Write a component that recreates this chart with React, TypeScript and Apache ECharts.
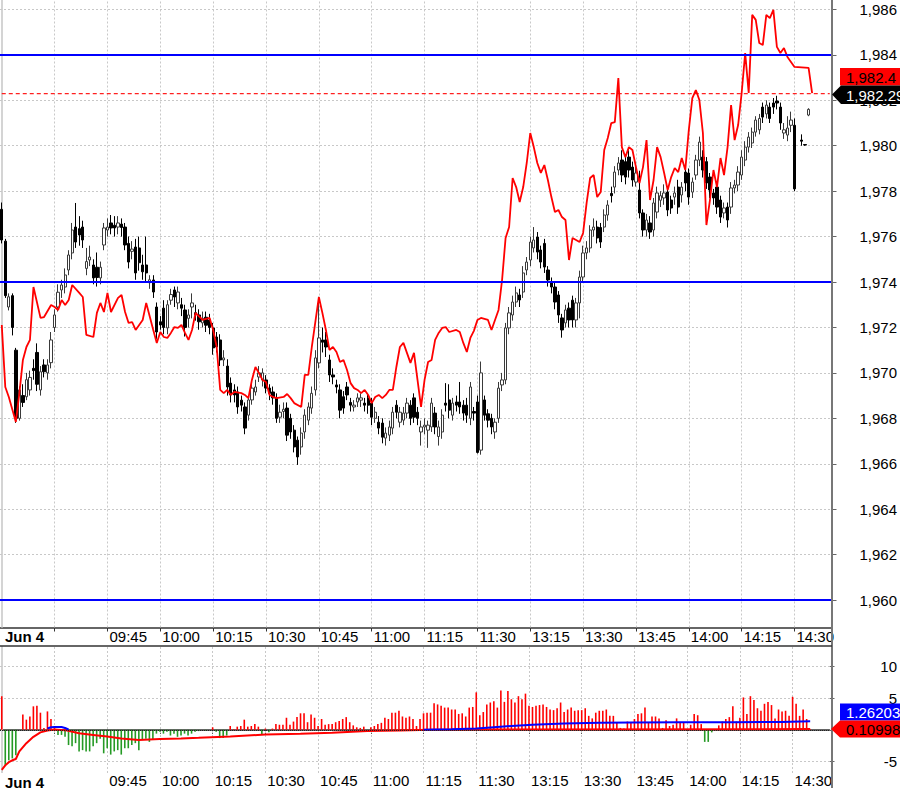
import React, { useEffect, useRef } from "react";
import * as echarts from "echarts";

const FONT = "'Liberation Sans', Arial, Helvetica, sans-serif";

// Trading sessions (1-minute bars)
const sessions = [
  { start: "09:15", end: "11:30" },
  { start: "13:01", end: "14:40" },
];

function buildTimes(): string[] {
  const out: string[] = [];
  for (const s of sessions) {
    const [sh, sm] = s.start.split(":").map(Number);
    const [eh, em] = s.end.split(":").map(Number);
    for (let m = sh * 60 + sm; m <= eh * 60 + em; m++) {
      out.push(String(Math.floor(m / 60)).padStart(2, "0") + ":" + String(m % 60).padStart(2, "0"));
    }
  }
  return out;
}
const times = buildTimes();

const dayLabel = "Jun 4";
const dayStartTime = "09:15";
const labelTimes = ["09:45", "10:00", "10:15", "10:30", "10:45", "11:00", "11:15", "11:30", "13:15", "13:30", "13:45", "14:00", "14:15", "14:30"];
const tickTimes = ["09:30", ...labelTimes];

const priceTicks = [1960, 1962, 1964, 1966, 1968, 1970, 1972, 1974, 1976, 1978, 1980, 1982, 1984, 1986];
const oscTicks = [-5, 0, 5, 10];
const oscLabels = [-5, 5, 10];

const blueLevels = [1984, 1974, 1960];
const lastPrice = 1982.29;

// [open, close, low, high]
const candles: any[] = [
  [1977.2, 1975.85, 1975.7, 1977.5], [1975.8, 1973.4, 1973.3, 1975.9], [1972.9, 1973.35, 1972.75, 1973.5], [1973.4, 1972.0, 1971.65, 1973.5],
  [1971.0, 1968.0, 1967.8, 1971.1], [1968.0, 1969.25, 1967.9, 1969.4], [1969.0, 1968.7, 1968.5, 1969.5], [1968.95, 1969.7, 1968.8, 1970.0],
  [1969.25, 1969.8, 1969.0, 1970.1], [1970.2, 1970.1, 1969.7, 1970.6], [1970.9, 1969.5, 1969.2, 1971.3], [1969.25, 1970.05, 1969.0, 1970.3],
  [1970.35, 1970.05, 1969.8, 1970.6], [1970.0, 1970.35, 1969.7, 1970.6], [1970.45, 1971.45, 1970.2, 1971.8], [1972.0, 1972.55, 1971.8, 1972.8],
  [1972.9, 1973.55, 1972.7, 1973.9], [1973.65, 1973.87, 1973.3, 1974.1], [1973.78, 1974.31, 1973.5, 1974.6], [1974.53, 1975.19, 1974.3, 1975.4],
  [1975.28, 1976.29, 1975.0, 1976.6], [1976.42, 1975.76, 1975.5, 1977.48], [1976.35, 1976.07, 1975.6, 1976.9], [1976.42, 1975.85, 1975.5, 1976.7],
  [1974.6, 1974.9, 1974.3, 1975.5], [1974.97, 1975.1, 1974.7, 1975.6], [1974.75, 1974.18, 1973.9, 1975.0], [1974.65, 1974.2, 1973.8, 1975.3],
  [1974.18, 1974.65, 1973.9, 1974.9], [1975.63, 1976.38, 1975.4, 1976.6], [1976.29, 1976.42, 1976.0, 1976.8], [1976.6, 1976.38, 1976.1, 1976.95],
  [1976.5, 1976.38, 1976.0, 1976.9], [1976.42, 1976.6, 1976.1, 1976.9], [1976.55, 1976.4, 1976.0, 1976.8], [1976.42, 1975.63, 1975.4, 1976.6],
  [1975.7, 1974.88, 1974.6, 1976.0], [1975.35, 1975.45, 1975.0, 1975.8], [1975.54, 1974.4, 1974.1, 1975.9], [1975.5, 1974.85, 1974.5, 1976.0],
  [1974.75, 1974.45, 1974.1, 1975.2], [1974.75, 1974.4, 1974.0, 1976.0], [1973.97, 1974.1, 1973.7, 1974.3], [1974.09, 1973.56, 1973.3, 1974.3],
  [1972.9, 1971.8, 1971.5, 1973.1], [1972.25, 1972.11, 1971.9, 1972.5], [1972.85, 1972.0, 1971.7, 1973.2], [1971.98, 1973.0, 1971.7, 1973.2],
  [1973.2, 1973.45, 1973.0, 1973.7], [1973.65, 1973.34, 1972.9, 1973.8], [1973.08, 1973.56, 1972.8, 1973.8], [1973.0, 1972.85, 1972.5, 1973.3],
  [1972.77, 1972.0, 1971.6, 1973.0], [1972.4, 1972.55, 1972.0, 1972.8], [1972.9, 1973.08, 1972.4, 1973.5], [1972.65, 1972.55, 1972.3, 1973.0],
  [1972.55, 1972.25, 1971.9, 1972.8], [1972.2, 1972.4, 1972.0, 1972.7], [1972.45, 1972.1, 1971.8, 1972.7], [1972.33, 1972.0, 1971.7, 1972.6],
  [1971.98, 1971.1, 1970.8, 1972.2], [1971.58, 1971.14, 1970.9, 1971.8], [1971.45, 1970.57, 1970.3, 1971.7], [1970.57, 1970.66, 1970.3, 1971.0],
  [1970.3, 1969.38, 1969.0, 1970.6], [1969.55, 1969.03, 1968.7, 1969.8], [1969.25, 1969.03, 1968.7, 1969.5], [1969.16, 1968.5, 1968.2, 1969.4],
  [1968.8, 1968.58, 1968.3, 1969.0], [1968.5, 1967.57, 1967.3, 1968.7], [1968.14, 1968.81, 1967.9, 1969.0], [1968.81, 1969.33, 1968.6, 1969.6],
  [1969.16, 1969.38, 1969.0, 1969.7], [1969.82, 1970.0, 1969.6, 1970.3], [1969.69, 1970.0, 1969.4, 1970.2], [1969.69, 1969.33, 1969.1, 1969.9],
  [1969.33, 1969.1, 1968.8, 1969.5], [1969.16, 1968.9, 1968.6, 1969.4], [1968.9, 1968.0, 1967.8, 1969.1], [1968.05, 1968.27, 1967.8, 1968.6],
  [1968.3, 1968.4, 1968.0, 1968.7], [1968.45, 1967.26, 1967.0, 1968.7], [1968.0, 1967.4, 1967.1, 1968.2], [1967.48, 1966.74, 1966.5, 1967.7],
  [1967.04, 1966.3, 1965.95, 1967.2], [1966.74, 1967.35, 1966.4, 1967.6], [1967.4, 1968.14, 1967.1, 1968.4], [1967.92, 1968.5, 1967.7, 1968.7],
  [1968.45, 1969.1, 1968.2, 1969.4], [1969.25, 1970.66, 1969.0, 1971.0], [1970.44, 1971.54, 1970.2, 1973.35], [1971.45, 1971.35, 1970.9, 1972.0],
  [1971.45, 1971.14, 1970.7, 1971.8], [1970.57, 1969.91, 1969.6, 1970.8], [1969.91, 1969.82, 1969.5, 1970.2], [1969.47, 1969.38, 1969.1, 1969.7],
  [1969.25, 1968.36, 1968.0, 1969.5], [1968.95, 1968.45, 1968.2, 1969.2], [1969.38, 1969.03, 1968.8, 1969.6], [1968.7, 1968.58, 1968.3, 1968.9],
  [1968.5, 1968.58, 1968.3, 1968.8], [1968.72, 1968.9, 1968.5, 1969.1], [1968.8, 1968.9, 1968.5, 1969.1], [1968.67, 1968.58, 1968.3, 1968.9],
  [1968.9, 1968.58, 1968.2, 1969.1], [1968.67, 1968.05, 1967.7, 1968.9], [1968.0, 1968.27, 1967.8, 1968.5], [1967.83, 1967.57, 1967.3, 1968.1],
  [1967.79, 1967.17, 1966.9, 1968.0], [1967.13, 1967.35, 1966.8, 1967.6], [1967.26, 1967.62, 1967.0, 1967.9], [1967.57, 1968.27, 1967.3, 1968.5],
  [1968.58, 1968.27, 1968.0, 1968.8], [1967.83, 1968.27, 1967.6, 1968.5], [1967.92, 1968.23, 1967.7, 1968.5], [1968.23, 1968.67, 1968.0, 1968.9],
  [1968.58, 1968.0, 1967.7, 1968.8], [1968.9, 1968.05, 1967.8, 1969.1], [1968.27, 1968.0, 1967.7, 1968.5], [1967.4, 1967.62, 1966.8, 1967.9],
  [1967.62, 1967.7, 1967.3, 1968.0], [1967.48, 1967.7, 1966.7, 1967.9], [1967.62, 1968.67, 1967.4, 1968.9], [1968.23, 1967.62, 1967.3, 1968.5],
  [1967.2, 1967.62, 1966.8, 1967.9], [1967.4, 1968.14, 1967.1, 1968.4], [1968.67, 1968.58, 1968.3, 1969.55], [1968.81, 1968.36, 1968.0, 1969.5],
  [1968.14, 1968.67, 1967.9, 1968.9], [1968.72, 1968.58, 1968.3, 1969.0], [1968.72, 1968.5, 1968.2, 1969.6], [1968.58, 1968.23, 1967.9, 1968.8],
  [1968.58, 1968.14, 1967.8, 1968.9], [1968.0, 1969.38, 1967.7, 1969.6], [1968.3, 1968.23, 1967.9, 1968.5], [1968.72, 1966.5, 1966.45, 1969.0],
  // afternoon
  [1966.6, 1970.0, 1966.4, 1970.5], [1968.81, 1968.14, 1967.9, 1969.0], [1968.2, 1967.92, 1967.6, 1968.4], [1968.0, 1967.62, 1967.3, 1968.2],
  [1967.4, 1967.83, 1967.1, 1968.0], [1968.0, 1969.33, 1967.8, 1969.6], [1969.47, 1969.69, 1969.2, 1970.0], [1969.69, 1971.98, 1969.5, 1972.2],
  [1971.98, 1972.64, 1971.7, 1972.9], [1972.55, 1973.12, 1972.3, 1973.4], [1973.12, 1973.52, 1972.9, 1973.8], [1973.43, 1973.21, 1972.9, 1973.7],
  [1973.56, 1974.4, 1973.3, 1974.7], [1974.53, 1974.88, 1974.3, 1975.1], [1974.97, 1975.76, 1974.7, 1976.0], [1975.5, 1975.85, 1975.3, 1976.42],
  [1975.98, 1975.32, 1975.0, 1976.2], [1975.41, 1974.88, 1974.6, 1975.6], [1975.7, 1974.66, 1974.4, 1975.9], [1974.53, 1974.09, 1973.8, 1974.7],
  [1974.0, 1973.78, 1973.5, 1974.2], [1973.78, 1973.12, 1972.8, 1974.0], [1973.43, 1972.55, 1972.2, 1973.6], [1972.42, 1971.89, 1971.55, 1972.6],
  [1972.2, 1972.77, 1972.0, 1973.0], [1972.85, 1972.33, 1972.0, 1973.1], [1973.2, 1972.33, 1972.0, 1973.4], [1972.33, 1973.08, 1972.0, 1973.3],
  [1973.08, 1974.22, 1972.4, 1974.5], [1974.22, 1975.28, 1974.0, 1975.6], [1975.28, 1975.5, 1975.0, 1975.8], [1975.5, 1976.29, 1975.3, 1976.5],
  [1976.29, 1976.42, 1976.0, 1976.8], [1976.42, 1975.94, 1975.7, 1976.7], [1976.4, 1975.76, 1975.5, 1976.6], [1976.42, 1976.95, 1976.2, 1977.2],
  [1976.95, 1977.39, 1976.7, 1977.6], [1977.9, 1977.8, 1977.5, 1978.2], [1978.18, 1978.84, 1977.9, 1979.1], [1978.93, 1979.24, 1978.7, 1979.5],
  [1979.37, 1978.71, 1978.4, 1979.8], [1979.3, 1978.62, 1978.3, 1979.5], [1979.5, 1978.93, 1978.6, 1979.8], [1979.06, 1978.49, 1978.2, 1979.3],
  [1978.4, 1978.8, 1978.2, 1979.1], [1978.05, 1977.04, 1976.8, 1978.9], [1977.04, 1976.29, 1976.0, 1977.2], [1976.29, 1976.73, 1976.0, 1977.0],
  [1976.6, 1976.2, 1975.9, 1976.9], [1976.29, 1977.48, 1976.0, 1977.7], [1977.08, 1977.92, 1976.8, 1978.2], [1977.6, 1977.8, 1977.3, 1978.0],
  [1977.7, 1977.92, 1977.4, 1978.3], [1977.96, 1977.17, 1976.9, 1978.2], [1977.61, 1977.26, 1977.0, 1977.8], [1977.74, 1977.92, 1977.4, 1978.2],
  [1978.18, 1977.3, 1977.0, 1978.5], [1977.83, 1978.18, 1977.5, 1978.4], [1978.84, 1978.36, 1978.0, 1979.1], [1978.8, 1977.74, 1977.4, 1979.0],
  [1977.96, 1978.4, 1977.7, 1978.6], [1978.71, 1979.37, 1978.5, 1979.6], [1979.37, 1980.16, 1979.1, 1980.4], [1979.5, 1978.93, 1978.6, 1979.8],
  [1979.3, 1978.36, 1978.1, 1979.5], [1978.62, 1978.05, 1977.7, 1978.8], [1977.92, 1977.7, 1977.4, 1978.1], [1978.18, 1977.3, 1977.0, 1978.4],
  [1977.61, 1976.86, 1976.6, 1977.8], [1977.04, 1977.26, 1976.8, 1977.5], [1977.3, 1976.73, 1976.4, 1977.5], [1977.3, 1978.14, 1977.0, 1978.4],
  [1978.14, 1978.27, 1977.9, 1978.5], [1978.27, 1978.84, 1978.0, 1979.1], [1978.71, 1979.5, 1978.5, 1979.8], [1979.37, 1979.94, 1979.1, 1980.2],
  [1979.94, 1980.38, 1979.7, 1980.6], [1980.12, 1980.6, 1979.9, 1980.8], [1980.6, 1981.13, 1980.4, 1981.3], [1980.7, 1981.2, 1980.5, 1981.4],
  [1981.7, 1981.26, 1981.0, 1981.9], [1981.4, 1981.79, 1981.2, 1982.0], [1981.7, 1981.2, 1981.0, 1981.9], [1981.88, 1981.7, 1981.4, 1982.1],
  [1981.97, 1981.88, 1981.6, 1982.2], [1981.7, 1981.0, 1980.7, 1981.9], [1980.56, 1980.7, 1980.3, 1981.0], [1980.47, 1980.78, 1980.2, 1981.3],
  [1980.9, 1981.13, 1980.6, 1981.5], [1980.9, 1978.1, 1978.0, 1981.2], "-", [1980.25, 1980.2, 1980.0, 1980.5],
  [1980.05, 1980.03, 1980.0, 1980.05], [1981.35, 1981.6, 1981.3, 1981.65],
];

// Red comparison line: [bar index, price]
const redLine: number[][] = [
  [0, 1972.11], [1, 1969.38], [2, 1968.94], [4, 1967.84], [5, 1969.11], [6, 1970.57], [7, 1971.14], [8, 1971.45], [9, 1973.78],
  [11, 1972.42], [12, 1972.46], [14, 1972.99], [15, 1972.9], [16, 1972.77], [17, 1973.21], [18, 1972.99], [19, 1973.21], [20, 1973.87],
  [22, 1973.52], [23, 1973.34], [24, 1971.67], [26, 1971.58], [27, 1972.64], [28, 1973.08], [29, 1972.68], [30, 1973.52], [31, 1972.68],
  [33, 1973.3], [34, 1973.43], [35, 1972.68], [36, 1972.2], [37, 1972.24], [38, 1971.89], [40, 1972.33], [41, 1973.08], [43, 1971.89],
  [44, 1971.32], [45, 1971.8], [46, 1971.58], [47, 1971.54], [48, 1971.76], [49, 1972.02], [50, 1971.98], [51, 1972.11], [52, 1971.76],
  [53, 1971.45], [54, 1971.89], [55, 1972.64], [57, 1972.33], [59, 1972.42], [60, 1971.89], [61, 1971.14], [62, 1969.25], [63, 1969.11],
  [64, 1969.25], [65, 1969.03], [66, 1969.16], [68, 1969.11], [69, 1969.03], [70, 1968.89], [71, 1969.69], [72, 1970.26], [73, 1969.99],
  [74, 1969.69], [75, 1969.6], [76, 1969.03], [77, 1968.94], [78, 1968.89], [80, 1968.94], [81, 1969.07], [82, 1968.89], [83, 1968.67],
  [85, 1968.5], [86, 1969.91], [87, 1969.91], [88, 1971.14], [90, 1973.34], [91, 1972.64], [92, 1971.89], [93, 1971.01], [94, 1971.14],
  [95, 1970.92], [96, 1970.48], [97, 1970.57], [98, 1970.13], [99, 1969.55], [100, 1969.33], [101, 1969.25], [102, 1969.11], [103, 1969.25],
  [104, 1969.03], [105, 1968.67], [106, 1968.94], [107, 1969.03], [108, 1968.89], [109, 1969.03], [110, 1969.25], [111, 1969.25],
  [112, 1970.26], [113, 1971.14], [114, 1971.32], [115, 1970.88], [116, 1970.44], [117, 1970.88], [118, 1969.69], [119, 1968.5],
  [120, 1969.69], [121, 1970.48], [122, 1970.57], [123, 1971.45], [124, 1971.76], [125, 1971.98], [126, 1972.02], [127, 1971.8],
  [129, 1971.89], [130, 1971.8], [131, 1971.32], [132, 1970.92], [133, 1971.54], [134, 1971.85], [135, 1972.33], [136, 1972.42],
  [138, 1972.33], [139, 1971.89], [140, 1972.33], [141, 1972.77], [142, 1974.09], [143, 1975.94], [144, 1976.42], [145, 1978.58],
  [146, 1978.18], [147, 1977.52], [148, 1978.18], [149, 1979.24], [150, 1980.56], [151, 1979.94], [152, 1979.24], [153, 1978.8],
  [154, 1979.15], [155, 1978.49], [156, 1977.74], [157, 1977.08], [158, 1977.17], [159, 1976.86], [160, 1976.73], [161, 1974.97],
  [162, 1975.94], [163, 1975.85], [164, 1975.76], [165, 1976.16], [166, 1977.48], [167, 1978.58], [168, 1978.71], [169, 1977.74],
  [170, 1977.96], [171, 1979.81], [172, 1980.34], [173, 1981.0], [174, 1981.04], [175, 1982.98], [176, 1979.94], [177, 1979.5],
  [178, 1979.94], [179, 1979.81], [180, 1979.06], [181, 1978.36], [182, 1979.06], [183, 1980.25], [184, 1977.61], [185, 1978.49],
  [186, 1979.94], [187, 1979.5], [188, 1978.8], [189, 1978.05], [190, 1978.62], [191, 1979.02], [192, 1978.84], [193, 1979.46],
  [194, 1978.93], [195, 1980.69], [196, 1982.1], [197, 1982.45], [198, 1982.01], [199, 1980.56], [200, 1976.51], [201, 1977.61],
  [202, 1978.93], [203, 1978.18], [204, 1979.46], [205, 1978.71], [206, 1979.94], [207, 1981.79], [208, 1980.25], [209, 1980.91],
  [210, 1982.32], [211, 1984.08], [212, 1982.32], [213, 1985.76], [214, 1985.54], [215, 1984.52], [216, 1984.43], [217, 1985.76],
  [218, 1985.62], [219, 1985.98], [220, 1984.35], [221, 1984.08], [222, 1984.3], [223, 1983.91], [224, 1983.69], [225, 1983.47],
  [229, 1983.43], [230, 1982.32],
];

// Last-value reference line spans the whole time axis
const lastPriceLine: any[] = [[0, lastPrice], [235, lastPrice]];

// Oscillator histogram (one value per bar)
const histValues = [
  5.3, -5.7, -4.8, -4.5, -4.0, 0, 2.4, 1.6, 2.1, 3.7, 3.8, 2.7, 0.3, 2.9, 1.7, 0.3, -0.8, -0.8, -1.1, -2.4,
  -2.6, -2.1, -3.4, -3.2, -3.4, -3.4, -2.6, -2.1, -1.4, -3.7, -2.9, -3.9, -3.4, -3.2, -3.9, -2.9, -2.9, -2.4, -2.1, -3.2,
  -1.6, -1.4, -1.9, -1.6, -0.6, -0.3, -0.6, -0.3, -0.9, -0.6, -1.1, -0.9, -0.6, -0.9, -0.6, -0.3, -0.2, 0, -0.1, 0,
  0.4, -0.3, -1.3, -1.3, -0.9, 0.6, 0.1, 0.5, 0.6, 1.6, 0.5, 0.6, 0.9, 0.5, -0.8, 0.2, -0.4, 0.2, 0.9, 0.8,
  0.8, 1.9, 0.8, 1.3, 2.0, 2.6, 2.6, 1.2, 2.4, 1.9, 0.6, 1.7, 0.8, 0.9, 0.9, 1.2, 1.4, 1.7, 2.0, 1.2,
  0.7, 0.4, 0.3, 0.5, -0.3, 0.4, 0.6, 0.9, 1.1, 1.9, 1.7, 2.7, 2.7, 3.0, 2.1, 1.9, 2.1, 1.7, 0.6, 1.7,
  2.6, 2.7, 2.7, 4.2, 4.0, 3.8, 3.5, 3.5, 3.2, 3.2, 2.5, 2.6, 2.1, 3.5, 3.6, 5.9, 2.3, 2.8, 4.0, 4.3,
  4.5, 3.5, 6.2, 4.4, 6.1, 4.8, 4.3, 5.3, 4.8, 5.7, 3.8, 3.6, 3.8, 3.9, 4.0, 3.6, 3.2, 3.1, 3.4, 4.3,
  2.8, 3.2, 3.5, 3.0, 3.1, 3.1, 3.4, 2.2, 1.8, 2.7, 3.0, 3.0, 3.2, 2.2, 2.2, 1.2, 0.3, 0.2, 1.3, 1.2,
  1.7, 2.5, 2.6, 3.5, 1.2, 2.1, 2.1, 1.8, 0.3, 1.5, 0.6, 0.8, 1.8, 1.1, 1.1, 0, 0.8, 2.5, 2.3, 0.9,
  -1.9, -1.9, -0.4, 0, 0.7, 1.3, 1.7, 2.0, 3.7, 1.3, 1.9, 5.1, 2.5, 5.3, 4.7, 3.4, 3.0, 4.1, 4.4, 3.9,
  1.8, 3.2, 2.9, 3.0, 2.2, 5.2, 4.1, 2.2, 3.2, 1.7, 0.1,
];

const oscRed: number[][] = [
  [0, -6.3], [1, -5.6], [2, -5.1], [3, -4.8], [4, -4.6], [5, -3.4], [7, -2.1], [9, -1.1], [11, -0.4], [13, -0.1],
  [15, 0.05], [18, -0.05], [22, -0.55], [26, -0.8], [30, -1.05], [34, -1.35], [39, -1.6], [45, -1.45], [51, -1.35],
  [56, -1.25], [65, -1.05], [75, -0.75], [85, -0.6], [94, -0.45], [104, -0.2], [113, -0.1], [122, 0], [135, 0.05], [230, 0.11],
];
const oscBlueA: number[][] = [[13, 0.2], [14, 0.4], [15, 0.45], [17, 0.45], [18, 0.3], [19, 0.05]];
const oscBlueB: number[][] = [
  [120, 0.03], [128, 0.1], [135, 0.2], [140, 0.4], [145, 0.6], [151, 0.8], [160, 1.0], [170, 1.1], [179, 1.15],
  [193, 1.2], [208, 1.2], [222, 1.25], [230, 1.33],
];

const priceBoxes = { redText: "1,982.4", blackText: "1,982.29", blueText: "1.26203", oscRedText: "0.10998" };

const fmtPrice = (v: number) => {
  const s = String(Math.round(v));
  return s.length > 3 ? s.slice(0, -3) + "," + s.slice(-3) : s;
};

const gridDash = { color: "#c8c8c8", type: [2, 2] as any, width: 1 };

function gridLines(yVals: number[]) {
  return {
    silent: true,
    z: 1,
    symbol: ["none", "none"],
    label: { show: false },
    emphasis: { disabled: true },
    animation: false,
    data: [
      { xAxis: dayStartTime, lineStyle: { color: "#d4d4d4", width: 2, type: "solid" } },
      ...tickTimes.map((t) => ({ xAxis: t, lineStyle: gridDash })),
      ...yVals.map((v) => ({ yAxis: v, lineStyle: gridDash })),
    ],
  };
}

export default function App() {
  const ref = useRef<HTMLDivElement>(null);
  useEffect(() => {
    if (!ref.current) return;
    const chart = echarts.init(ref.current, null, { renderer: "svg" });
    const xAxisBase = (i: number) => ({
      type: "category",
      gridIndex: i,
      data: times,
      boundaryGap: true,
      axisLine: { show: true, lineStyle: { color: "#333", width: 1.5 } },
      axisTick: {
        show: true,
        alignWithLabel: true,
        length: 4,
        interval: (_idx: number, val: string) => tickTimes.includes(val),
        lineStyle: { color: "#333", width: 1 },
      },
      axisLabel: {
        show: true,
        interval: (_idx: number, val: string) => labelTimes.includes(val),
        align: "left",
        verticalAlign: "middle",
        margin: i === 0 ? 8.5 : 7.5,
        color: "#000",
        fontSize: 15,
        fontFamily: FONT,
        padding: [0, 0, 0, 2],
      },
      splitLine: { show: false },
    });
    const option: any = {
      animation: false,
      backgroundColor: "#fff",
      textStyle: { fontFamily: FONT },
      grid: [
        { left: 0, top: 0, width: 832, height: 627.5 },
        { left: 0, top: 646, width: 832, height: 129 },
      ],
      xAxis: [xAxisBase(0), xAxisBase(1)],
      yAxis: [
        {
          type: "value",
          gridIndex: 0,
          position: "right",
          min: 1958.792,
          max: 1986.415,
          axisLine: { show: false },
          axisTick: { show: true, length: 5, customValues: priceTicks, lineStyle: { color: "#666" } },
          axisLabel: {
            customValues: priceTicks,
            formatter: fmtPrice,
            align: "right",
            verticalAlign: "middle",
            margin: 65.5,
            fontSize: 15,
            color: "#000",
            fontFamily: FONT,
          },
          splitLine: { show: false },
        },
        {
          type: "value",
          gridIndex: 1,
          position: "right",
          min: -6.8,
          max: 13.2,
          axisLine: { show: false },
          axisTick: { show: true, length: 5, customValues: oscTicks, lineStyle: { color: "#666" } },
          axisLabel: {
            customValues: oscLabels,
            align: "right",
            verticalAlign: "middle",
            margin: 67.5,
            fontSize: 15,
            color: "#000",
            fontFamily: FONT,
          },
          splitLine: { show: false },
        },
      ],
      series: [
        {
          type: "candlestick",
          xAxisIndex: 0,
          yAxisIndex: 0,
          data: candles,
          barWidth: 2.8,
          z: 2,
          itemStyle: {
            color: "#ffffff",
            color0: "#000000",
            borderColor: "#3a3a3a",
            borderColor0: "#000000",
            borderColorDoji: "#3a3a3a",
            borderWidth: 1,
          },
          markLine: gridLines(priceTicks),
        },
        {
          type: "line",
          xAxisIndex: 0,
          yAxisIndex: 0,
          data: lastPriceLine,
          symbol: "none",
          showSymbol: false,
          z: 3,
          color: "#ff0000",
          lineStyle: { color: "#ff2020", width: 1.2, type: [4, 3] },
        },
        {
          type: "line",
          xAxisIndex: 0,
          yAxisIndex: 0,
          data: redLine,
          symbol: "none",
          showSymbol: false,
          z: 3,
          color: "#ff0000",
          lineStyle: { color: "#ff0000", width: 1.8 },
          markLine: {
            silent: true,
            z: 5,
            symbol: ["none", "none"],
            label: { show: false },
            emphasis: { disabled: true },
            data: blueLevels.map((v) => ({ yAxis: v, lineStyle: { color: "#0000ff", width: 1.8, type: "solid" } })),
          },
        },
        {
          type: "bar",
          xAxisIndex: 1,
          yAxisIndex: 1,
          data: histValues,
          barWidth: 1.6,
          z: 2,
          itemStyle: {
            color: (p: any) => (p.value >= 0 ? "#ff0000" : "#259a25"),
          },
          markLine: gridLines([-5, 5, 10]),
        },
        {
          type: "line",
          xAxisIndex: 1,
          yAxisIndex: 1,
          data: oscRed,
          symbol: "none",
          z: 3,
          lineStyle: { color: "#ff0000", width: 2 },
        },
        {
          type: "line",
          xAxisIndex: 1,
          yAxisIndex: 1,
          data: oscBlueA,
          symbol: "none",
          z: 3,
          lineStyle: { color: "#0000ff", width: 2 },
        },
        {
          type: "line",
          xAxisIndex: 1,
          yAxisIndex: 1,
          data: oscBlueB,
          symbol: "none",
          z: 3,
          lineStyle: { color: "#0000ff", width: 2 },
          markLine: {
            silent: true,
            z: 6,
            symbol: ["none", "none"],
            label: { show: false },
            emphasis: { disabled: true },
            data: [{ yAxis: 0, lineStyle: { color: "#222", width: 1, type: [1, 1] } }],
          },
        },
      ],
      graphic: [
        { type: "line", z: 50, shape: { x1: 832, y1: 0, x2: 832, y2: 788 }, style: { stroke: "#777", lineWidth: 2 } },
        { type: "line", z: 50, shape: { x1: 0, y1: 646, x2: 832, y2: 646 }, style: { stroke: "#333", lineWidth: 1.5 } },
        {
          type: "text", z: 50, x: 5, y: 636,
          style: { text: dayLabel, font: `bold 15px ${FONT}`, fill: "#000", verticalAlign: "middle", textVerticalAlign: "middle" },
        },
        {
          type: "text", z: 50, x: 5, y: 782,
          style: { text: dayLabel, font: `bold 15px ${FONT}`, fill: "#000", verticalAlign: "middle", textVerticalAlign: "middle" },
        },
        { type: "rect", z: 100, shape: { x: 840, y: 68, width: 60, height: 17.5 }, style: { fill: "#ff0000" } },
        {
          type: "text", z: 101, x: 846, y: 77,
          style: { text: priceBoxes.redText, font: `15px ${FONT}`, fill: "#000", verticalAlign: "middle", textVerticalAlign: "middle" },
        },
        {
          type: "polygon", z: 100,
          shape: { points: [[832, 94.5], [841, 85.5], [900, 85.5], [900, 104], [841, 104]] },
          style: { fill: "#000" },
        },
        {
          type: "text", z: 101, x: 846, y: 95,
          style: { text: priceBoxes.blackText, font: `15px ${FONT}`, fill: "#fff", verticalAlign: "middle", textVerticalAlign: "middle" },
        },
        { type: "rect", z: 100, shape: { x: 840, y: 703.5, width: 60, height: 17 }, style: { fill: "#0000ff" } },
        {
          type: "text", z: 101, x: 846, y: 712.5,
          style: { text: priceBoxes.blueText, font: `15px ${FONT}`, fill: "#fff", verticalAlign: "middle", textVerticalAlign: "middle" },
        },
        {
          type: "polygon", z: 100,
          shape: { points: [[831, 729], [840, 720.5], [900, 720.5], [900, 737.5], [840, 737.5]] },
          style: { fill: "#ff0000" },
        },
        {
          type: "text", z: 101, x: 846, y: 729.5,
          style: { text: priceBoxes.oscRedText, font: `15px ${FONT}`, fill: "#000", verticalAlign: "middle", textVerticalAlign: "middle" },
        },
      ],
    };
    chart.setOption(option);
    return () => chart.dispose();
  }, []);
  return <div ref={ref} style={{ position: "absolute", left: 0, top: 0, width: 900, height: 788 }} />;
}
